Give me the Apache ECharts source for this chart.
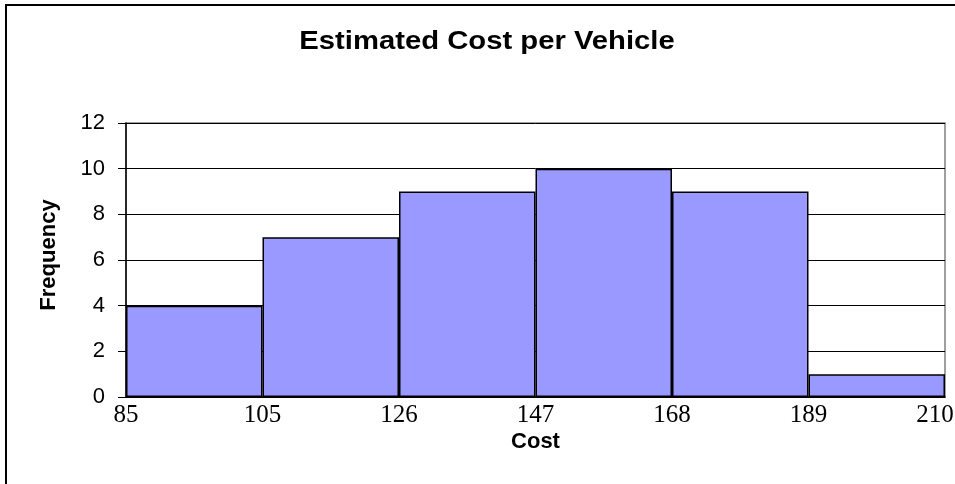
<!DOCTYPE html>
<html>
<head>
<meta charset="utf-8">
<script src="https://cdn.jsdelivr.net/npm/echarts@6/dist/echarts.min.js"></script>
<style>html,body{margin:0;padding:0;background:#fff;}#c{width:955px;height:484px;}</style>
</head>
<body>
<div id="c"></div>
<script>
var binLabels = ['85-105', '105-126', '126-147', '147-168', '168-189', '189-210'];
var edgeLabels = ['85', '105', '126', '147', '168', '189', '210'];
var frequencies = [4, 7, 9, 10, 9, 1];
var yTicks = [0, 2, 4, 6, 8, 10, 12];
var titleText = 'Estimated Cost per Vehicle';
var xAxisTitle = 'Cost';
var yAxisTitle = 'Frequency';

var chart = echarts.init(document.getElementById('c'), null, {renderer: 'canvas'});
chart.setOption({
  animation: false,
  backgroundColor: '#fff',
  graphic: [
    {type: 'rect', shape: {x: 6, y: 5, width: 1000, height: 1000}, style: {fill: 'none', stroke: '#000', lineWidth: 2}, silent: true, z: 100},
    {type: 'text', x: 487, y: 42, scaleX: 1.17, style: {text: titleText, font: 'bold 25px "Liberation Sans", Arial', fill: '#000', textAlign: 'center', textVerticalAlign: 'middle'}, silent: true},
    {type: 'text', x: 49, y: 255, rotation: Math.PI / 2, style: {text: yAxisTitle, font: 'bold 22px "Liberation Sans", Arial', fill: '#000', textAlign: 'center', textVerticalAlign: 'middle'}, silent: true}
  ],
  grid: {left: 126, right: 10, top: 123, bottom: 87, show: true, borderColor: '#808080', borderWidth: 1.5, backgroundColor: '#fff', containLabel: false, outerBoundsMode: 'none'},
  xAxis: [
    {
      type: 'category', data: binLabels, boundaryGap: true,
      axisLine: {lineStyle: {color: '#000', width: 1.5}},
      axisTick: {show: false}, axisLabel: {show: false}, splitLine: {show: false},
      name: xAxisTitle, nameLocation: 'middle', nameGap: 34,
      nameTextStyle: {fontFamily: 'Liberation Sans, Arial', fontWeight: 'bold', fontSize: 22, color: '#000'}
    },
    {
      type: 'value', min: 0, max: 6, interval: 1, position: 'bottom',
      axisLine: {show: false}, axisTick: {show: false}, splitLine: {show: false},
      axisLabel: {
        show: true, margin: 6, color: '#000', fontFamily: 'Liberation Serif, Times New Roman', fontSize: 25,
        formatter: function (v) {
          var i = Math.round(v);
          return i === edgeLabels.length - 1 ? '{last|' + edgeLabels[i] + '}' : edgeLabels[i];
        },
        rich: {last: {fontFamily: 'Liberation Serif, Times New Roman', fontSize: 25, color: '#000', padding: [0, 20, 0, 0]}}
      }
    }
  ],
  yAxis: {
    type: 'value', min: 0, max: 12, interval: 2,
    axisLine: {show: true, lineStyle: {color: '#000', width: 1.5}},
    axisTick: {show: true, length: 8, lineStyle: {color: '#000'}},
    axisLabel: {margin: 21, color: '#000', fontFamily: 'Liberation Sans, Arial', fontSize: 22,
      formatter: function (v) { return yTicks.indexOf(v) >= 0 ? String(v) : ''; }},
    splitLine: {show: true, lineStyle: {color: '#000', width: 1}}
  },
  series: [{
    type: 'bar', xAxisIndex: 0, data: frequencies, barWidth: '100%', barGap: '0%',
    itemStyle: {color: '#9999FF', borderColor: '#000', borderWidth: 1.5}
  }]
});
</script>
</body>
</html>
